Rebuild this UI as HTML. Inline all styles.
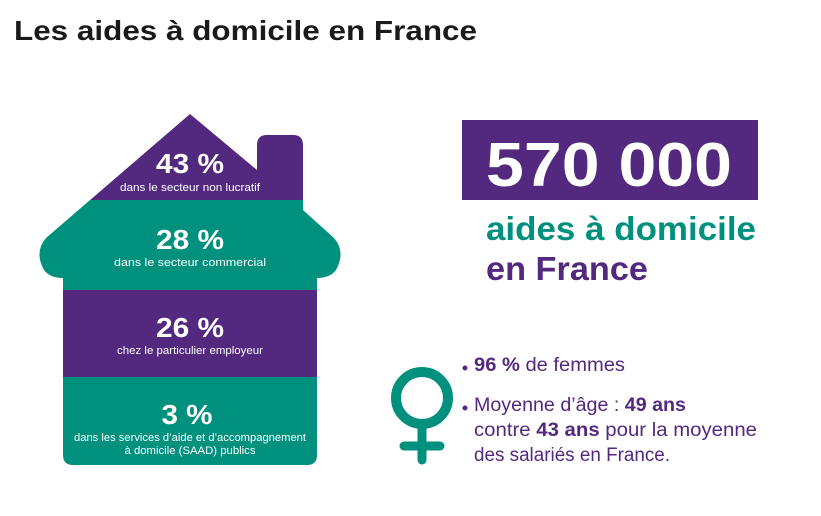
<!DOCTYPE html>
<html><head><meta charset="utf-8"><style>
html,body{margin:0;padding:0;background:#fff;}
svg{display:block;}
text{font-family:"Liberation Sans",sans-serif;}
</style></head><body>
<svg width="821" height="516" viewBox="0 0 821 516" xmlns="http://www.w3.org/2000/svg">
<defs>
<clipPath id="house">
<path d="M190,114 L257,170 L257,145 Q257,135 267,135 L293,135 Q303,135 303,145 L303,210 L334,238 Q346,252 336,270 Q330,278 317,278 L317,455 Q317,465 307,465 L73,465 Q63,465 63,455 L63,278 Q50,278 44,270 Q34,252 46,238 Z"/>
</clipPath>
</defs>
<text x="14" y="40" font-size="28" font-weight="bold" fill="#1a1a1a" textLength="463" lengthAdjust="spacingAndGlyphs">Les aides à domicile en France</text>
<g clip-path="url(#house)">
<rect x="0" y="100" width="400" height="100" fill="#53287f"/>
<rect x="0" y="200" width="400" height="90" fill="#00907e"/>
<rect x="0" y="290" width="400" height="87" fill="#53287f"/>
<rect x="0" y="377" width="400" height="100" fill="#00907e"/>
</g>
<g fill="#fff" text-anchor="middle">
<text x="190" y="173" font-size="28" font-weight="bold" textLength="68" lengthAdjust="spacingAndGlyphs">43 %</text>
<text x="190" y="191" font-size="11" textLength="140" lengthAdjust="spacingAndGlyphs">dans le secteur non lucratif</text>
<text x="190" y="249" font-size="28" font-weight="bold" textLength="68" lengthAdjust="spacingAndGlyphs">28 %</text>
<text x="190" y="266" font-size="11" textLength="152" lengthAdjust="spacingAndGlyphs">dans le secteur commercial</text>
<text x="190" y="337" font-size="28" font-weight="bold" textLength="68" lengthAdjust="spacingAndGlyphs">26 %</text>
<text x="190" y="354" font-size="11" textLength="146" lengthAdjust="spacingAndGlyphs">chez le particulier employeur</text>
<text x="187" y="424" font-size="28" font-weight="bold" textLength="51" lengthAdjust="spacingAndGlyphs">3 %</text>
<text x="190" y="441" font-size="11" textLength="232" lengthAdjust="spacingAndGlyphs">dans les services d’aide et d’accompagnement</text>
<text x="190" y="454" font-size="11" textLength="131" lengthAdjust="spacingAndGlyphs">à domicile (SAAD) publics</text>
</g>
<rect x="462" y="120" width="296" height="80" fill="#53287f"/>
<text x="486" y="186" font-size="62" font-weight="bold" fill="#fff" textLength="246" lengthAdjust="spacingAndGlyphs">570 000</text>
<text x="486" y="240" font-size="33" font-weight="bold" fill="#00907e" textLength="270" lengthAdjust="spacingAndGlyphs">aides à domicile</text>
<text x="486" y="280" font-size="33" font-weight="bold" fill="#53287f" textLength="162" lengthAdjust="spacingAndGlyphs">en France</text>
<circle cx="422" cy="398" r="26" fill="none" stroke="#00907e" stroke-width="10"/>
<line x1="422" y1="424" x2="422" y2="460" stroke="#00907e" stroke-width="9" stroke-linecap="round"/>
<line x1="404" y1="446" x2="440" y2="446" stroke="#00907e" stroke-width="9" stroke-linecap="round"/>
<g font-size="19" fill="#53287f">
<circle cx="465" cy="368" r="2.5" fill="#53287f"/>
<text x="474" y="371" textLength="151" lengthAdjust="spacingAndGlyphs"><tspan font-weight="bold">96 %</tspan> de femmes</text>
<circle cx="465" cy="408" r="2.5" fill="#53287f"/>
<text x="474" y="411" textLength="212" lengthAdjust="spacingAndGlyphs">Moyenne d’âge : <tspan font-weight="bold">49 ans</tspan></text>
<text x="474" y="436" textLength="283" lengthAdjust="spacingAndGlyphs">contre <tspan font-weight="bold">43 ans</tspan> pour la moyenne</text>
<text x="474" y="461" textLength="196" lengthAdjust="spacingAndGlyphs">des salariés en France.</text>
</g>
</svg>
</body></html>
